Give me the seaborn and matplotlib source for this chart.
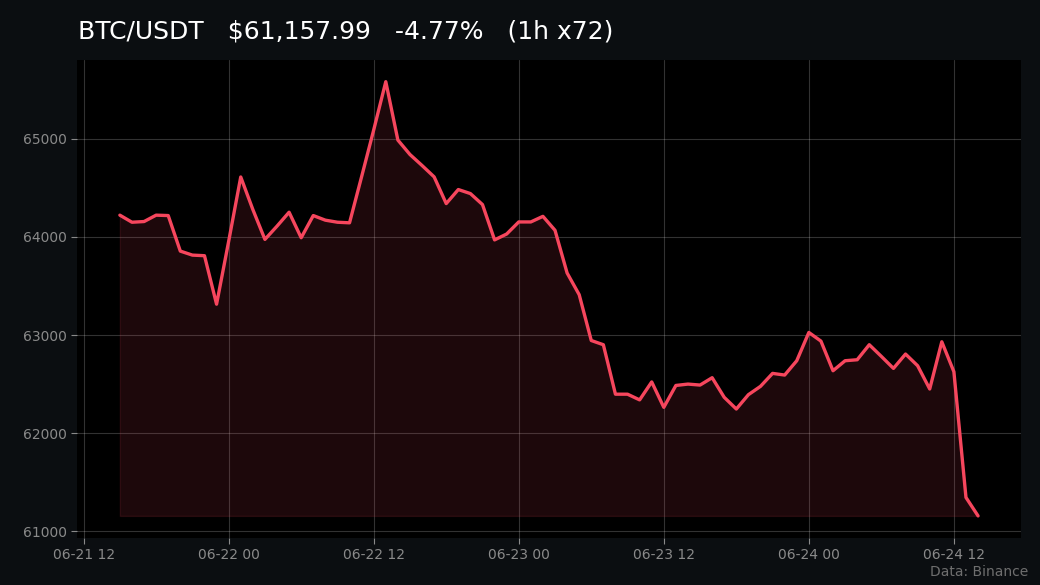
import numpy as np
import pandas as pd
import matplotlib
matplotlib.use("Agg")
import matplotlib.pyplot as plt
import matplotlib.dates as mdates
import seaborn as sns

# ---- data (hourly closes) ----
start_time = "2024-06-21 15:00"
n_hours = 72
closes = [
    64222, 64150, 64157, 64222, 64218, 63856, 63815, 63809, 63315,
    63955, 64611, 64280, 63975, 64110, 64252, 63992, 64218, 64171, 64150, 64144,
    64614, 65090, 65582, 64987, 64840, 64728, 64612, 64340, 64483, 64442, 64330, 63970, 64030,
    64153, 64153, 64210, 64068, 63633, 63412, 62945, 62902, 62398, 62398, 62340, 62523,
    62264, 62487, 62501, 62491, 62566, 62366, 62247, 62393, 62478, 62610, 62593, 62739,
    63027, 62939, 62637, 62739, 62749, 62902, 62783, 62661, 62807, 62688, 62451, 62932,
    62627, 61346, 61157.99,
]
title_text = "BTC/USDT   $61,157.99   -4.77%   (1h x72)"
source_text = "Data: Binance"

times = pd.date_range(start_time, periods=n_hours, freq="h")
df = pd.DataFrame({"time": times, "close": closes})

BG = "#0b0e11"
RED = "#f6465d"

sns.set_theme(style="dark")
plt.rcParams["font.family"] = ["DejaVu Sans"]

fig = plt.figure(figsize=(10.4, 5.85), dpi=100, facecolor=BG)
ax = fig.add_axes([0.074, 0.081, 0.9077, 0.8165])
ax.set_facecolor("black")

sns.lineplot(data=df, x="time", y="close", ax=ax, color=RED, linewidth=2.4)
ax.fill_between(df["time"], df["close"], min(closes), color=RED, alpha=0.12,
                edgecolor=RED, linewidth=1.0)

ax.xaxis.set_major_locator(mdates.HourLocator(byhour=[0, 12]))
ax.xaxis.set_major_formatter(mdates.DateFormatter("%m-%d %H"))
ax.set_yticks([61000, 62000, 63000, 64000, 65000])

ax.grid(True, color="#ffffff", alpha=0.2, linewidth=0.8)
for s in ax.spines.values():
    s.set_visible(False)
ax.tick_params(axis="both", colors="#8a8a8a", labelsize=10, length=4,
               width=0.8, bottom=True, left=True)
ax.set_xlabel("")
ax.set_ylabel("")

fig.text(0.075, 0.934, title_text, color="white", fontsize=18, ha="left", va="baseline")
fig.text(0.989, 0.016, source_text, color="#6e6e6e", fontsize=10, ha="right", va="baseline")

fig.savefig("out.png", dpi=100, facecolor=BG)
